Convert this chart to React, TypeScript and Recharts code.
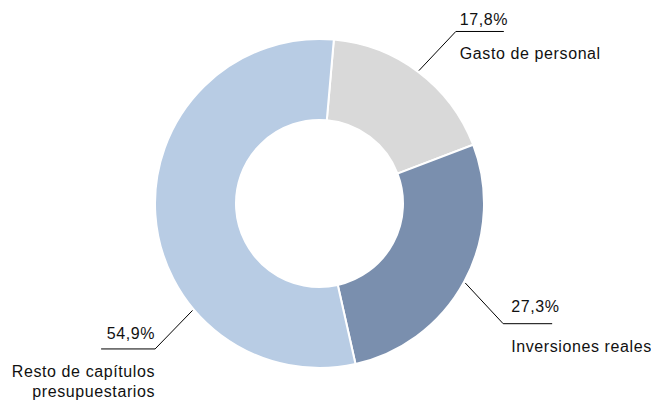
import { PieChart, Pie, Cell } from 'recharts'

const categories = ['Gasto de personal', 'Inversiones reales', 'Resto de capítulos presupuestarios']
const shares = [17.8, 27.3, 54.9]
const valueLabels = ['17,8%', '27,3%', '54,9%']
const nameLines = [['Gasto de personal'], ['Inversiones reales'], ['Resto de capítulos', 'presupuestarios']]
const colors = ['#d9d9d9', '#7a8fae', '#b8cce4']

// leader lines: angles measured clockwise from 12 o'clock
const leaderStart = [36.8, 118.6, 229.9]
const leaderKnee = [38.4, 123.2, 228.5]
const leaderTail = [48, 49, 54]
const valueRaise = [6, 12, 10]

const data = categories.map((name, i) => ({ name, value: shares[i] }))

const FONT = '"Liberation Sans", Arial, Helvetica, sans-serif'

function polar(cx: number, cy: number, r: number, deg: number) {
  const a = (deg * Math.PI) / 180
  return [cx + r * Math.sin(a), cy - r * Math.cos(a)]
}

function renderLabel(props: any) {
  const { cx, cy, outerRadius, index } = props
  const [x1, y1] = polar(cx, cy, outerRadius + 1.5, leaderStart[index])
  const [x2, y2] = polar(cx, cy, outerRadius + 55, leaderKnee[index])
  const right = leaderKnee[index] < 180
  const x3 = x2 + (right ? leaderTail[index] : -leaderTail[index])
  const textX = right ? x2 + (index === 0 ? 4 : 8) : x2
  const anchor = right ? 'start' : 'end'
  const lines = nameLines[index]
  const textProps = { textAnchor: anchor, fontSize: 16, fill: '#111', fontFamily: FONT, letterSpacing: 0.6 } as any
  return (
    <g>
      <polyline points={`${x1},${y1} ${x2},${y2} ${x3},${y2}`} fill="none" stroke="#000" strokeWidth={1} />
      <text x={textX} y={y2 - valueRaise[index]} {...textProps}>
        {valueLabels[index]}
      </text>
      {lines.map((l, k) => (
        <text key={k} x={textX} y={y2 + 28 + k * 20} {...textProps}>
          {l}
        </text>
      ))}
    </g>
  )
}

export default function App() {
  return (
    <div style={{ position: 'absolute', left: 0, top: 0, width: 651, height: 405, background: '#fff' }}>
      <PieChart width={651} height={405} margin={{ top: 0, right: 0, bottom: 0, left: 0 }}>
        <Pie
          data={data}
          dataKey="value"
          cx={319.5}
          cy={203.5}
          innerRadius={83.5}
          outerRadius={164.5}
          startAngle={85}
          endAngle={-275}
          stroke="#fff"
          strokeWidth={2}
          label={renderLabel}
          labelLine={false}
          isAnimationActive={false}
        >
          {data.map((d, i) => (
            <Cell key={d.name} fill={colors[i]} />
          ))}
        </Pie>
      </PieChart>
    </div>
  )
}
